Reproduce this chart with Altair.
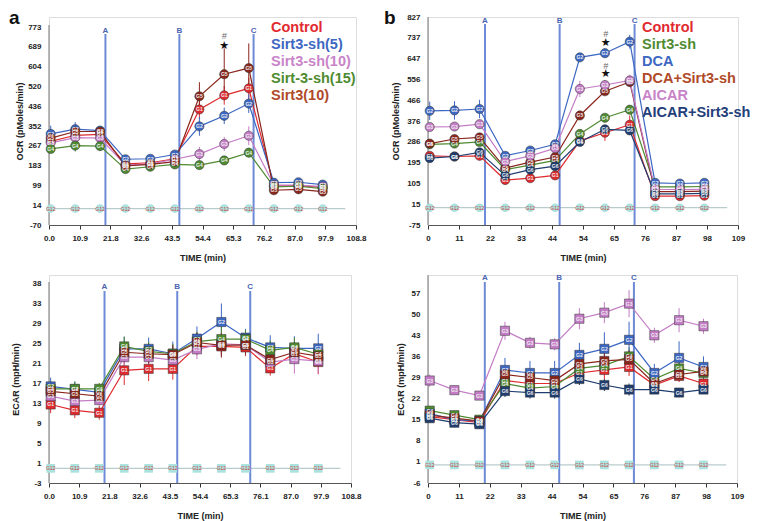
import altair as alt
import pandas as pd

FONT = "Liberation Sans"

# ---------------- shared ----------------
TIME = [0.6, 9.3, 18.1, 27.1, 35.9, 44.6, 53.3, 62.1, 70.8, 79.7, 88.4, 97.0]
INJ_T = [20.0, 46.2, 72.5]
INJ_LAB = ["A", "B", "C"]
X_LABELS_A_TOP = ["0.0", "10.9", "21.8", "32.6", "43.5", "54.4", "65.3", "76.2", "87.0", "97.9", "108.8"]
X_LABELS_A_BOT = ["0.0", "10.9", "21.8", "32.6", "43.5", "54.4", "65.3", "76.1", "87.0", "97.9", "108.8"]
X_LABELS_B = ["0", "11", "22", "33", "44", "54", "65", "76", "87", "98", "109"]

# ---------------- panel a ----------------
A_NAMES = ["Control", "Sirt3-sh(5)", "Sirt3-sh(10)", "Sirt-3-sh(15)", "Sirt3(10)"]
A_COLORS = ["#df2a2e", "#3c67c3", "#c47cc6", "#4e8a30", "#8a261c"]
A_TEXT_COLORS = ["#e12a2f", "#3d67c2", "#c984c9", "#4f8b31", "#b04a29"]
A_WELLS = ["G1", "G2", "G3", "G4", "G5"]

A_OCR_CONTROL = [286, 312, 316, 190, 195, 212, 422, 482, 512, 97, 98, 90]
A_OCR_SH5 = [318, 338, 332, 210, 212, 230, 350, 395, 447, 110, 112, 102]
A_OCR_SH10 = [280, 302, 300, 185, 190, 210, 232, 275, 310, 100, 100, 93]
A_OCR_SH15 = [254, 268, 266, 168, 178, 188, 185, 205, 238, 92, 95, 85]
A_OCR_SIRT3 = [300, 328, 328, 182, 188, 200, 478, 572, 598, 78, 82, 72]
A_OCR_ERR_CONTROL = [15, 20, 15, 10, 10, 10, 40, 40, 45, 8, 8, 8]
A_OCR_ERR_SH5 = [35, 30, 15, 10, 10, 10, 40, 35, 40, 8, 8, 8]
A_OCR_ERR_SH10 = [15, 15, 15, 10, 10, 10, 30, 30, 40, 8, 8, 8]
A_OCR_ERR_SH15 = [15, 25, 20, 10, 10, 10, 15, 15, 20, 8, 8, 8]
A_OCR_ERR_SIRT3 = [15, 20, 15, 10, 10, 10, 60, 110, 105, 8, 8, 8]

A_ECAR_CONTROL = [13.1, 11.9, 11.4, 20.1, 20.4, 20.4, 25.0, 25.0, 24.8, 20.5, 23.5, 21.8]
A_ECAR_SH5 = [16.8, 16.2, 15.6, 24.5, 24.5, 23.5, 26.6, 30.0, 26.8, 24.8, 24.6, 24.6]
A_ECAR_SH10 = [14.8, 13.8, 14.0, 22.8, 22.8, 22.2, 24.4, 25.5, 25.3, 21.8, 22.4, 22.0]
A_ECAR_SH15 = [16.3, 16.3, 16.3, 25.0, 24.0, 23.5, 26.0, 26.5, 26.5, 24.2, 24.8, 23.4]
A_ECAR_SIRT3 = [15.8, 15.3, 14.8, 23.8, 23.5, 23.3, 25.8, 25.2, 25.3, 22.3, 23.8, 23.0]
A_ECAR_ERR_CONTROL = [1.8, 1.6, 1.4, 3.0, 2.5, 2.2, 1.8, 1.8, 1.8, 1.5, 1.8, 2.5]
A_ECAR_ERR_SH5 = [1.8, 1.6, 1.2, 2.5, 2.3, 2.5, 2.5, 3.8, 1.8, 2.5, 2.5, 3.0]
A_ECAR_ERR_SH10 = [1.5, 1.5, 1.2, 2.0, 2.0, 2.0, 2.0, 2.5, 2.0, 2.0, 3.0, 2.5]
A_ECAR_ERR_SH15 = [1.5, 1.5, 1.2, 2.0, 2.0, 2.0, 2.0, 2.5, 1.8, 2.0, 2.0, 2.0]
A_ECAR_ERR_SIRT3 = [1.5, 1.5, 1.2, 2.0, 2.0, 2.0, 2.0, 2.5, 2.0, 2.0, 2.0, 2.0]

A_OCR_LABELS = ["-70", "14", "99", "183", "267", "352", "436", "520", "604", "689", "773"]
A_ECAR_LABELS = ["-3", "1", "5", "9", "13", "17", "21", "25", "29", "33", "38"]

# ---------------- panel b ----------------
B_NAMES = ["Control", "Sirt3-sh", "DCA", "DCA+Sirt3-sh", "AICAR", "AICAR+Sirt3-sh"]
B_COLORS = ["#df2a2e", "#4e8a30", "#3c67c3", "#8a261c", "#c47cc6", "#1f3d6f"]
B_TEXT_COLORS = ["#e12a2f", "#4f8b31", "#3d67c2", "#b04a29", "#c984c9", "#24407a"]
B_WELLS = ["G1", "G4", "G2", "G5", "G3", "G6"]

B_OCR_CONTROL = [225, 222, 225, 120, 128, 140, 290, 325, 360, 50, 50, 52]
B_OCR_SH = [275, 278, 285, 165, 185, 205, 320, 390, 425, 90, 90, 92]
B_OCR_DCA = [420, 422, 428, 225, 248, 275, 652, 670, 720, 108, 105, 108]
B_OCR_DCA_SH = [278, 298, 305, 172, 198, 220, 400, 505, 545, 70, 70, 72]
B_OCR_AICAR = [350, 352, 362, 200, 225, 258, 515, 532, 552, 80, 78, 80]
B_OCR_AICAR_SH = [215, 222, 240, 140, 165, 180, 285, 340, 335, 60, 60, 62]
B_OCR_ERR_CONTROL = [10, 10, 10, 8, 8, 8, 20, 35, 40, 5, 5, 5]
B_OCR_ERR_SH = [10, 10, 10, 8, 8, 8, 15, 15, 15, 5, 5, 5]
B_OCR_ERR_DCA = [40, 40, 40, 10, 10, 10, 15, 20, 30, 5, 5, 5]
B_OCR_ERR_DCA_SH = [10, 10, 10, 8, 8, 8, 15, 15, 20, 5, 5, 5]
B_OCR_ERR_AICAR = [10, 10, 10, 8, 8, 8, 35, 20, 25, 5, 5, 5]
B_OCR_ERR_AICAR_SH = [10, 10, 10, 8, 8, 8, 15, 15, 15, 5, 5, 5]

B_ECAR_CONTROL = [16.0, 15.0, 14.0, 28.0, 27.0, 27.0, 30.5, 31.5, 32.5, 26.5, 29.5, 27.0]
B_ECAR_SH = [18.0, 16.5, 15.0, 27.0, 25.5, 26.0, 32.0, 33.0, 36.0, 28.5, 32.0, 30.5]
B_ECAR_DCA = [17.0, 15.0, 14.5, 31.5, 30.5, 30.5, 36.5, 38.5, 41.5, 30.5, 35.5, 32.5]
B_ECAR_DCA_SH = [16.5, 15.5, 14.5, 30.0, 29.0, 28.0, 33.5, 34.5, 35.0, 27.0, 30.0, 31.0]
B_ECAR_AICAR = [28.0, 24.8, 23.0, 44.5, 40.5, 40.0, 48.5, 50.5, 53.5, 43.0, 48.0, 46.0]
B_ECAR_AICAR_SH = [15.5, 14.0, 13.5, 24.5, 24.0, 24.0, 28.5, 26.5, 25.0, 25.0, 24.0, 25.0]
B_ECAR_ERR_CONTROL = [1.5, 1.5, 1.5, 2.5, 2.5, 2.5, 3.0, 3.0, 3.0, 2.0, 2.0, 2.0]
B_ECAR_ERR_SH = [1.5, 1.5, 1.5, 2.5, 2.5, 2.5, 3.0, 3.0, 3.0, 2.0, 2.0, 2.0]
B_ECAR_ERR_DCA = [2.0, 2.0, 2.0, 4.0, 4.0, 4.0, 4.0, 5.5, 6.0, 3.0, 5.5, 3.5]
B_ECAR_ERR_DCA_SH = [1.5, 1.5, 1.5, 2.5, 2.5, 2.5, 3.0, 3.0, 3.0, 2.0, 2.0, 2.0]
B_ECAR_ERR_AICAR = [2.0, 1.5, 1.5, 3.0, 2.0, 2.0, 3.5, 3.5, 4.5, 2.5, 4.0, 2.5]
B_ECAR_ERR_AICAR_SH = [1.5, 1.5, 1.5, 2.0, 2.0, 2.0, 2.0, 2.0, 2.0, 1.5, 1.5, 1.5]

B_OCR_LABELS = ["-75", "15", "105", "195", "286", "376", "466", "556", "647", "737", "827"]
B_ECAR_LABELS = ["-6", "1", "8", "15", "22", "29", "36", "43", "50", "57"]

# significance marks: (time, value)
A_HASH = [(62.1, 735)]
A_STAR = [(62.1, 692)]
B_HASH = [(62.4, 753), (62.4, 614)]
B_STAR = [(62.4, 714), (62.4, 580)]


def expr_array(labels, start, step):
    arr = ",".join("'%s'" % s for s in labels)
    return "[%s][round((datum.value - (%s)) / %s)]" % (arr, start, step)


def panel(names, colors, text_colors, wells, values, errors, shape, ydom, axis_top,
          ystart, ystep, ylabels, xlabels, ytitle, ytitle_pad, w, h,
          inj_label_y, inj_line_y, leg_x, leg_y, leg_dy,
          hashes, stars, letter=None, letter_xy=None):
    rows = []
    for name, well, vals, errs in zip(names, wells, values, errors):
        for t, v, e in zip(TIME, vals, errs):
            rows.append(dict(series=name, well=well, t=t, v=v, lo=v - e, hi=v + e))
    df = pd.DataFrame(rows)

    xvals = [round(i * 10.88, 3) for i in range(11)]
    yvals = [round(ystart + i * ystep, 4) for i in range(len(ylabels))]
    xaxis = alt.Axis(values=xvals, labelExpr=expr_array(xlabels, 0, 10.88),
                     title="TIME (min)", grid=False, tickSize=4, tickColor="#333",
                     domainColor="#555", labelFont=FONT, labelFontSize=8,
                     labelFontWeight="bold", labelColor="#222", titleFont=FONT,
                     titleFontSize=9, titleFontWeight="bold", titleColor="#222",
                     labelPadding=5, titlePadding=11, labelFlush=False,
                     labelOverlap=False)
    yaxis = alt.Axis(values=yvals, labelExpr=expr_array(ylabels, ystart, ystep),
                     title=ytitle, grid=False, ticks=False, domain=False,
                     labelFont=FONT, labelFontSize=8, labelFontWeight="bold",
                     labelColor="#222", titleFont=FONT, titleFontSize=9,
                     titleFontWeight="bold", titleColor="#222", labelPadding=8,
                     titlePadding=ytitle_pad, labelOverlap=False, labelFlush=False)
    xsc = alt.Scale(domain=[0, 108.8], nice=False, zero=False)
    ysc = alt.Scale(domain=ydom, nice=False, zero=False)

    def X(f):
        return alt.X(f, scale=xsc, axis=xaxis)

    def Y(f):
        return alt.Y(f, scale=ysc, axis=yaxis)

    col = alt.Color("series:N", scale=alt.Scale(domain=names, range=colors), legend=None)

    layers = []
    ax_df = pd.DataFrame({"t": [0.0], "lo": [ydom[0]], "hi": [axis_top]})
    layers.append(alt.Chart(ax_df).mark_rule(color="#8a8a8a", strokeWidth=1.2)
                  .encode(x=X("t:Q"), y=Y("lo:Q"), y2="hi:Q"))
    base_df = pd.DataFrame({"t0": [0.0], "t1": [105.0], "v": [0.0]})
    layers.append(alt.Chart(base_df).mark_rule(color="#b8cccc", strokeWidth=1.2)
                  .encode(x=X("t0:Q"), x2="t1:Q", y=Y("v:Q")))
    inj = pd.DataFrame({"t": INJ_T, "lab": INJ_LAB})
    layers.append(alt.Chart(inj).mark_rule(color="#6d8ad6", strokeWidth=2)
                  .encode(x=X("t:Q"), y=alt.value(inj_line_y), y2=alt.value(h)))
    layers.append(alt.Chart(inj).mark_text(color="#4a64b0", fontSize=8, font=FONT,
                                           fontWeight="bold", baseline="middle")
                  .encode(x=X("t:Q"), y=alt.value(inj_label_y), text="lab:N"))
    layers.append(alt.Chart(df).mark_rule(strokeWidth=1)
                  .encode(x=X("t:Q"), y=Y("lo:Q"), y2="hi:Q", color=col))
    layers.append(alt.Chart(df).mark_line(strokeWidth=1.2)
                  .encode(x=X("t:Q"), y=Y("v:Q"), color=col, order="t:Q"))
    layers.append(alt.Chart(df).mark_point(filled=True, shape=shape, size=85, opacity=1,
                                           stroke="#333", strokeWidth=0.5)
                  .encode(x=X("t:Q"), y=Y("v:Q"), color=col))
    layers.append(alt.Chart(df).mark_text(fontSize=5, color="#eeeeee", font=FONT,
                                          fontWeight="bold", baseline="middle")
                  .encode(x=X("t:Q"), y=Y("v:Q"), text="well:N"))
    bl = pd.DataFrame({"t": TIME, "v": [0] * len(TIME), "w": ["G12"] * len(TIME)})
    layers.append(alt.Chart(bl).mark_point(filled=True, shape=shape, size=75,
                                           color="#a9e2de", opacity=1)
                  .encode(x=X("t:Q"), y=Y("v:Q")))
    layers.append(alt.Chart(bl).mark_text(fontSize=5, color="#d23a3a", font=FONT,
                                          baseline="middle")
                  .encode(x=X("t:Q"), y=Y("v:Q"), text="w:N"))
    if hashes:
        hd = pd.DataFrame({"t": [p[0] for p in hashes], "v": [p[1] for p in hashes],
                           "s": ["#"] * len(hashes)})
        layers.append(alt.Chart(hd).mark_text(fontSize=9, color="#666", font=FONT,
                                              fontStyle="italic", baseline="middle")
                      .encode(x=X("t:Q"), y=Y("v:Q"), text="s:N"))
        sd = pd.DataFrame({"t": [p[0] for p in stars], "v": [p[1] for p in stars],
                           "s": ["\u2605"] * len(stars)})
        layers.append(alt.Chart(sd).mark_text(fontSize=11, color="#111",
                                              font="DejaVu Sans", baseline="middle")
                      .encode(x=X("t:Q"), y=Y("v:Q"), text="s:N"))
    if leg_x is not None:
        for i, (nm, c) in enumerate(zip(names, text_colors)):
            layers.append(alt.Chart(pd.DataFrame({"n": [nm]}))
                          .mark_text(align="left", baseline="middle", fontSize=14.5,
                                     fontWeight="bold", font=FONT, color=c)
                          .encode(x=alt.value(leg_x), y=alt.value(leg_y + i * leg_dy),
                                  text="n:N"))
    if letter:
        layers.append(alt.Chart(pd.DataFrame({"n": [letter]}))
                      .mark_text(align="left", baseline="top", fontSize=19,
                                 fontWeight="bold", font=FONT, color="#111")
                      .encode(x=alt.value(letter_xy[0]), y=alt.value(letter_xy[1]),
                              text="n:N"))
    return alt.layer(*layers).properties(width=w, height=h)


a_top = panel(A_NAMES, A_COLORS, A_TEXT_COLORS, A_WELLS,
              [A_OCR_CONTROL, A_OCR_SH5, A_OCR_SH10, A_OCR_SH15, A_OCR_SIRT3],
              [A_OCR_ERR_CONTROL, A_OCR_ERR_SH5, A_OCR_ERR_SH10, A_OCR_ERR_SH15, A_OCR_ERR_SIRT3],
              "circle", [-70, 815.6], 782, -70, 84.3, A_OCR_LABELS, X_LABELS_A_TOP,
              "OCR (pMoles/min)", 3, 307, 208, 14, 17, 222, 11, 17,
              A_HASH, A_STAR, letter="a", letter_xy=(-40, -8))

b_top = panel(B_NAMES, B_COLORS, B_TEXT_COLORS, B_WELLS,
              [B_OCR_CONTROL, B_OCR_SH, B_OCR_DCA, B_OCR_DCA_SH, B_OCR_AICAR, B_OCR_AICAR_SH],
              [B_OCR_ERR_CONTROL, B_OCR_ERR_SH, B_OCR_ERR_DCA, B_OCR_ERR_DCA_SH,
               B_OCR_ERR_AICAR, B_OCR_ERR_AICAR_SH],
              "circle", [-75, 827], 827, -75, 90.2, B_OCR_LABELS, X_LABELS_B,
              "OCR (pMoles/min)", 6, 310, 208, 4, 7, 214, 11, 17,
              B_HASH, B_STAR, letter="b", letter_xy=(-44, -8))

a_bot = panel(A_NAMES, A_COLORS, A_TEXT_COLORS, A_WELLS,
              [A_ECAR_CONTROL, A_ECAR_SH5, A_ECAR_SH10, A_ECAR_SH15, A_ECAR_SIRT3],
              [A_ECAR_ERR_CONTROL, A_ECAR_ERR_SH5, A_ECAR_ERR_SH10, A_ECAR_ERR_SH15,
               A_ECAR_ERR_SIRT3],
              "square", [-3, 39.64], 38.2, -3, 4.1, A_ECAR_LABELS, X_LABELS_A_BOT,
              "ECAR (mpH/min)", 12, 302, 208, 12, 16, None, 0, 0,
              None, None)

b_bot = panel(B_NAMES, B_COLORS, B_TEXT_COLORS, B_WELLS,
              [B_ECAR_CONTROL, B_ECAR_SH, B_ECAR_DCA, B_ECAR_DCA_SH, B_ECAR_AICAR,
               B_ECAR_AICAR_SH],
              [B_ECAR_ERR_CONTROL, B_ECAR_ERR_SH, B_ECAR_ERR_DCA, B_ECAR_ERR_DCA_SH,
               B_ECAR_ERR_AICAR, B_ECAR_ERR_AICAR_SH],
              "square", [-6, 63], 63, -6, 7, B_ECAR_LABELS, X_LABELS_B,
              "ECAR (mpH/min)", 6, 309, 208, 3, 7, None, 0, 0,
              None, None)

top = alt.hconcat(a_top, b_top, spacing=16).resolve_scale(color="independent")
bottom = alt.hconcat(a_bot, b_bot, spacing=33).resolve_scale(color="independent")
chart = (alt.vconcat(top, bottom, spacing=10)
         .resolve_scale(color="independent")
         .properties(padding=0)
         .configure_view(stroke=None)
         .configure(background="white"))

chart.save("out.html", embed_options={"renderer": "svg", "actions": False})
